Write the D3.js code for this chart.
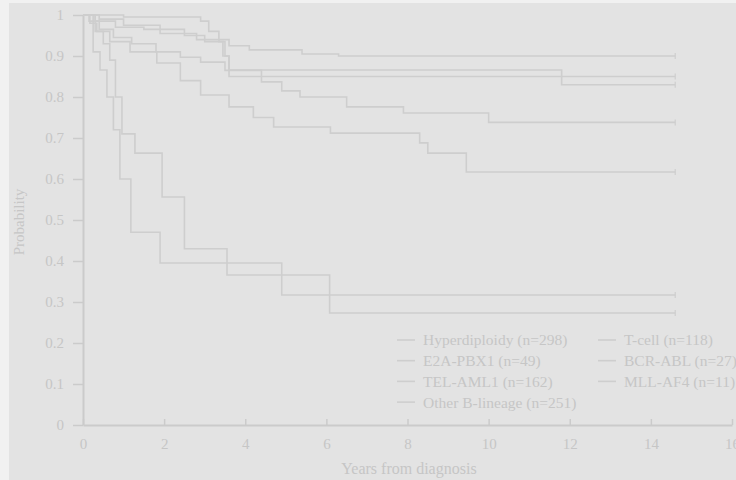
<!DOCTYPE html>
<html lang="en">
<head>
<script src="https://d3js.org/d3.v7.min.js"></script>
<style>
  body { margin: 0; background: #f1f1f1; }
  svg text { font-family: "Liberation Serif", "DejaVu Serif", serif; fill: #c6c6c6; }
</style>
</head>
<body>
<svg id="chart" width="736" height="480"></svg>
<script>
// axis ticks
var yearTicks = [0, 2, 4, 6, 8, 10, 12, 14, 16]
var probTicks = [0, 0.1, 0.2, 0.3, 0.4, 0.5, 0.6, 0.7, 0.8, 0.9, 1]
var lastFollowUp = 14.6

// Kaplan-Meier step curves: event times (years) and survival after each step
var hyperT = [0, 1.0, 2.9, 3.1, 3.35, 3.5, 3.6]
var hyperS = [1, 0.995, 0.985, 0.96, 0.935, 0.9, 0.85]

var e2aT = [0, 0.3, 0.8, 1.5, 2.5, 3.0, 3.45, 3.6, 11.8]
var e2aS = [1, 0.985, 0.97, 0.965, 0.95, 0.935, 0.9, 0.866, 0.83]

var telT = [0, 0.4, 1.0, 1.9, 2.8, 3.6, 4.1, 5.4, 6.3]
var telS = [1, 0.99, 0.975, 0.955, 0.94, 0.925, 0.915, 0.905, 0.9]

var otherT = [0, 0.15, 0.4, 0.75, 1.2, 1.8, 2.4, 2.9, 3.5, 4.4, 4.9, 5.35, 6.5, 7.9, 10.0]
var otherS = [1, 0.985, 0.965, 0.945, 0.93, 0.91, 0.897, 0.885, 0.865, 0.837, 0.815, 0.8, 0.776, 0.761, 0.738]

var tcellT = [0, 0.17, 0.34, 0.66, 1.16, 1.82, 2.4, 2.9, 3.6, 4.2, 4.7, 6.1, 8.3, 8.5, 9.45]
var tcellS = [1, 0.98, 0.96, 0.935, 0.91, 0.883, 0.84, 0.805, 0.776, 0.75, 0.727, 0.712, 0.688, 0.663, 0.617]

var bcrT = [0, 0.3, 0.5, 0.66, 0.8, 0.96, 1.28, 1.95, 2.5, 3.55, 6.08]
var bcrS = [1, 0.96, 0.93, 0.89, 0.8, 0.71, 0.663, 0.556, 0.43, 0.366, 0.273]

var mllT = [0, 0.25, 0.42, 0.59, 0.75, 0.91, 1.18, 1.9, 4.9]
var mllS = [1, 0.91, 0.866, 0.8, 0.72, 0.6, 0.47, 0.395, 0.317]

var names = ["Hyperdiploidy (n=298)", "E2A-PBX1 (n=49)", "TEL-AML1 (n=162)", "Other B-lineage (n=251)",
             "T-cell (n=118)", "BCR-ABL (n=27)", "MLL-AF4 (n=11)"]
var times = [hyperT, e2aT, telT, otherT, tcellT, bcrT, mllT]
var survs = [hyperS, e2aS, telS, otherS, tcellS, bcrS, mllS]

var lineColor = "#cecece"
var axisColor = "#cbcbcb"

var svg = d3.select("#chart")
svg.append("rect").attr("x", 9).attr("y", 3).attr("width", 727).attr("height", 477).attr("fill", "#e3e3e3")

var x = d3.scaleLinear().domain([0, 16]).range([83, 732])
var y = d3.scaleLinear().domain([0, 1]).range([425, 15])

var xAxis = d3.axisBottom(x).tickValues(yearTicks).tickSizeInner(-6).tickSizeOuter(0).tickPadding(13)
var yAxis = d3.axisLeft(y).tickValues(probTicks).tickSizeInner(10).tickSizeOuter(0).tickPadding(9)
    .tickFormat(d => d == 1 ? "1" : d == 0 ? "0" : d.toFixed(1))

var gx = svg.append("g").attr("transform", "translate(0,425)").call(xAxis)
var gy = svg.append("g").attr("transform", "translate(83,0)").call(yAxis)
;[gx, gy].forEach(g => {
    g.select(".domain").attr("stroke", axisColor).attr("stroke-width", 2)
    g.selectAll(".tick line").attr("stroke", axisColor).attr("stroke-width", 1.5)
    g.selectAll(".tick text").attr("fill", "#c6c6c6").style("font-size", "15px")
        .style("font-family", '"Liberation Serif", serif')
})

var line = d3.line().x(d => x(d[0])).y(d => y(d[1])).curve(d3.curveStepAfter)

names.forEach((n, i) => {
    var pts = times[i].map((t, j) => [t, survs[i][j]])
    pts.push([lastFollowUp, survs[i][survs[i].length - 1]])
    svg.append("path").attr("d", line(pts)).attr("fill", "none")
        .attr("stroke", lineColor).attr("stroke-width", 1.6)
    var last = pts[pts.length - 1]
    svg.append("line").attr("x1", x(last[0])).attr("x2", x(last[0]))
        .attr("y1", y(last[1]) - 3).attr("y2", y(last[1]) + 3)
        .attr("stroke", lineColor).attr("stroke-width", 1.2)
})

// axis titles
svg.append("text").attr("x", 409).attr("y", 474).attr("text-anchor", "middle")
    .style("font-size", "16px").text("Years from diagnosis")
svg.append("text").attr("transform", "translate(24,222) rotate(-90)").attr("text-anchor", "middle")
    .style("font-size", "15px").text("Probability")

// legend
var legend = svg.selectAll("g.legend").data(names).enter().append("g").attr("class", "legend")
    .attr("transform", (d, i) => i < 4
        ? "translate(397," + (340 + i * 20.7) + ")"
        : "translate(598," + (340 + (i - 4) * 20.7) + ")")
legend.append("line").attr("x1", 0).attr("x2", 18).attr("stroke", lineColor).attr("stroke-width", 1.6)
legend.append("text").attr("x", 26).attr("dy", "0.35em").style("font-size", "15.5px").text(d => d)
</script>
</body>
</html>
